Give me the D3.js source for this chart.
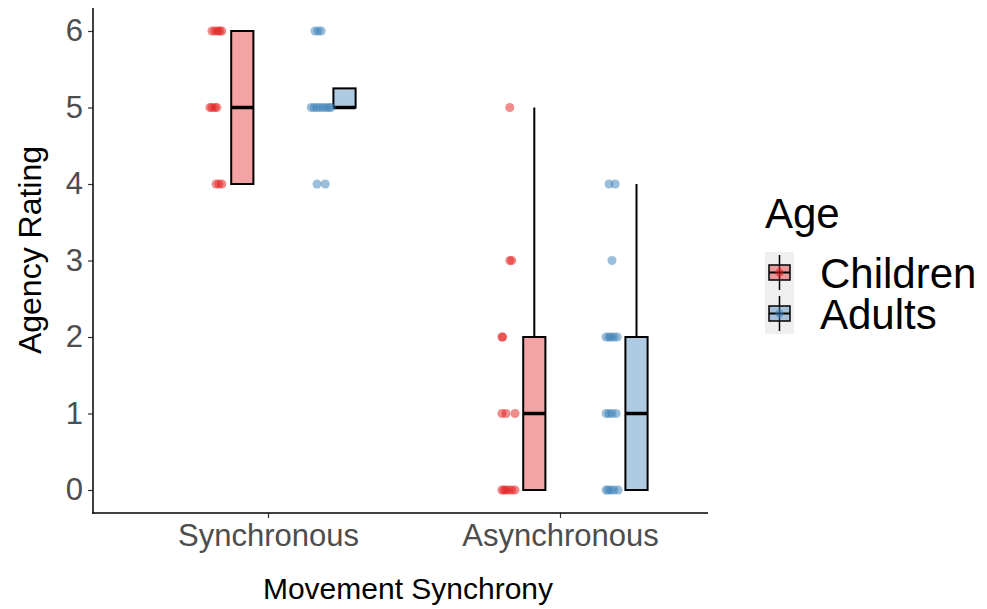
<!DOCTYPE html>
<html>
<head>
<meta charset="utf-8">
<script src="https://cdn.jsdelivr.net/npm/d3@7"></script>
<style>
  body { margin: 0; background: #fff; }
  text { font-family: "Liberation Sans", Arial, sans-serif; }
</style>
</head>
<body>
<div id="chart"></div>
<script>
// categories
const conditions = ["Synchronous", "Asynchronous"];
const ages = ["Children", "Adults"];
const ratingTicks = [0, 1, 2, 3, 4, 5, 6];

// box stats per condition: [lo, q1, median, q3, hi]
const childrenBox = [[4, 4, 5, 6, 6], [0, 0, 1, 2, 5]];
const adultsBox = [[5, 5, 5, 5.25, 5], [0, 0, 1, 2, 4]];

// raw points (rating) and their jitter (fraction of category step)
const childrenSyncRating = [6, 6, 6, 6, 6, 5, 5, 5, 5, 4, 4, 4];
const childrenSyncJitter = [-0.017, -0.007, 0.003, 0.010, 0.017, -0.024, -0.017, -0.007, 0.000, -0.003, 0.007, 0.017];
const adultsSyncRating = [6, 6, 6, 5, 5, 5, 5, 5, 5, 5, 5, 4, 4];
const adultsSyncJitter = [-0.014, -0.003, 0.007, -0.027, -0.017, -0.007, 0.003, 0.014, 0.024, 0.034, 0.041, -0.007, 0.021];
const childrenAsyncRating = [5, 3, 3, 2, 2, 1, 1, 1, 0, 0, 0, 0, 0, 0];
const childrenAsyncJitter = [0.003, 0.003, 0.010, -0.024, -0.021, -0.024, -0.010, 0.021, -0.024, -0.017, -0.010, 0.000, 0.010, 0.021];
const adultsAsyncRating = [4, 4, 3, 2, 2, 2, 2, 2, 1, 1, 1, 1, 0, 0, 0, 0, 0];
const adultsAsyncJitter = [-0.007, 0.014, 0.003, -0.017, -0.007, 0.000, 0.010, 0.021, -0.017, -0.007, 0.003, 0.017, -0.017, -0.010, 0.000, 0.010, 0.024];

const colors = { Children: "#E41A1C", Adults: "#377EB8" };

const W = 987, H = 609;
const panel = { left: 93, right: 708, top: 8, bottom: 513 };

const svg = d3.select("#chart").append("svg")
  .attr("width", W).attr("height", H);

const x = d3.scalePoint().domain(conditions).range([268, 560]);
const y = d3.scaleLinear().domain([0, 6]).range([490, 31]);
const step = x.step();
const dodge = d3.scalePoint().domain(ages).range([-0.175 * step, 0.175 * step]);
const boxNudge = 0.087 * step;
const boxW = 0.076 * step;

// axes
const yAxis = svg.append("g")
  .attr("transform", `translate(${panel.left},0)`)
  .call(d3.axisLeft(y).tickValues(ratingTicks).tickFormat(d3.format("d")).tickSize(5).tickPadding(5));
const xAxis = svg.append("g")
  .attr("transform", `translate(0,${panel.bottom})`)
  .call(d3.axisBottom(x).tickSize(5).tickPadding(6));
[yAxis, xAxis].forEach(g => {
  g.select(".domain").remove();
  g.selectAll(".tick line").attr("stroke", "#333").attr("stroke-width", 1.2);
  g.selectAll(".tick text").attr("fill", "#4D4D4D").style("font-size", "31px");
});
svg.append("line")
  .attr("x1", panel.left).attr("x2", panel.left)
  .attr("y1", panel.top).attr("y2", panel.bottom + 0.7)
  .attr("stroke", "#000").attr("stroke-width", 1.5);
svg.append("line")
  .attr("x1", panel.left - 0.7).attr("x2", panel.right)
  .attr("y1", panel.bottom).attr("y2", panel.bottom)
  .attr("stroke", "#000").attr("stroke-width", 1.5);

// axis titles
svg.append("text")
  .attr("x", 408).attr("y", 599)
  .attr("text-anchor", "middle").style("font-size", "30px")
  .text("Movement Synchrony");
svg.append("text")
  .attr("transform", `translate(41,250) rotate(-90)`)
  .attr("text-anchor", "middle").style("font-size", "32px")
  .text("Agency Rating");

// boxes
const boxes = [];
conditions.forEach((c, i) => {
  boxes.push({ cond: c, age: "Children", s: childrenBox[i] });
  boxes.push({ cond: c, age: "Adults", s: adultsBox[i] });
});
const bg = svg.append("g").selectAll("g").data(boxes).enter().append("g")
  .attr("transform", d => `translate(${x(d.cond) + dodge(d.age) + boxNudge},0)`);
bg.append("line")
  .attr("y1", d => y(d.s[3])).attr("y2", d => y(Math.max(d.s[4], d.s[3])))
  .attr("stroke", "#000").attr("stroke-width", 2);
bg.append("line")
  .attr("y1", d => y(d.s[1])).attr("y2", d => y(Math.min(d.s[0], d.s[1])))
  .attr("stroke", "#000").attr("stroke-width", 2);
bg.append("rect")
  .attr("x", -boxW / 2).attr("width", boxW)
  .attr("y", d => y(d.s[3])).attr("height", d => y(d.s[1]) - y(d.s[3]))
  .attr("fill", d => colors[d.age]).attr("fill-opacity", 0.4)
  .attr("stroke", "#000").attr("stroke-width", 2);
bg.append("line")
  .attr("x1", -boxW / 2).attr("x2", boxW / 2)
  .attr("y1", d => y(d.s[2])).attr("y2", d => y(d.s[2]))
  .attr("stroke", "#000").attr("stroke-width", 3.5);

// points
const points = [];
const addPts = (cond, age, r, j) => r.forEach((v, k) => points.push({ cond, age, v, j: j[k] }));
addPts("Synchronous", "Children", childrenSyncRating, childrenSyncJitter);
addPts("Synchronous", "Adults", adultsSyncRating, adultsSyncJitter);
addPts("Asynchronous", "Children", childrenAsyncRating, childrenAsyncJitter);
addPts("Asynchronous", "Adults", adultsAsyncRating, adultsAsyncJitter);
svg.append("g").selectAll("circle").data(points).enter().append("circle")
  .attr("cx", d => x(d.cond) + dodge(d.age) + d.j * step)
  .attr("cy", d => y(d.v))
  .attr("r", 4.5)
  .attr("fill", d => colors[d.age])
  .attr("opacity", 0.5);

// legend
const lg = svg.append("g").attr("transform", "translate(765,0)");
lg.append("text").attr("x", 0).attr("y", 228).style("font-size", "42px").text("Age");
const keyH = 41, keyW = 29, key0 = 252;
const items = lg.selectAll(".item").data(ages).enter().append("g")
  .attr("transform", (d, i) => `translate(0,${key0 + i * keyH})`);
items.append("rect").attr("width", keyW).attr("height", keyH).attr("fill", "#EFEFEF");
items.append("line").attr("x1", keyW / 2).attr("x2", keyW / 2)
  .attr("y1", 3).attr("y2", keyH - 3).attr("stroke", "#000").attr("stroke-width", 1.5);
items.append("rect").attr("x", 4).attr("y", 13).attr("width", keyW - 8).attr("height", 15)
  .attr("fill", d => colors[d]).attr("fill-opacity", 0.4)
  .attr("stroke", "#000").attr("stroke-width", 1.5);
items.append("line").attr("x1", 4).attr("x2", keyW - 4)
  .attr("y1", keyH / 2).attr("y2", keyH / 2).attr("stroke", "#000").attr("stroke-width", 2);
items.append("circle").attr("cx", keyW / 2).attr("cy", keyH / 2).attr("r", 4.3)
  .attr("fill", d => colors[d]).attr("opacity", 0.5);
items.append("text").attr("x", 55).attr("y", keyH / 2).attr("dy", "0.36em")
  .style("font-size", "42px").text(d => d);
</script>
</body>
</html>
